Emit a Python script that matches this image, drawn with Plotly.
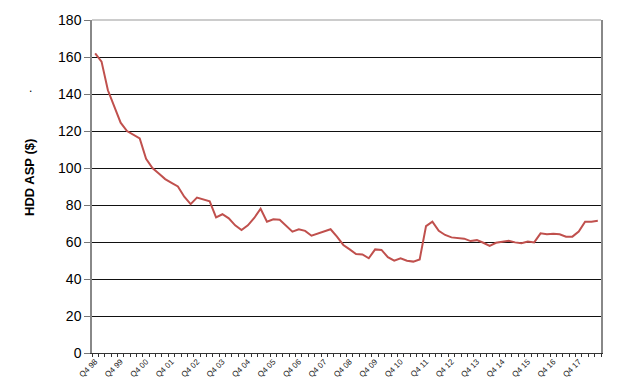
import plotly.graph_objects as go

# Quarters from Q4 98 to Q3 18
years = list(range(1998, 2019))
quarters = []
for y in years:
    for q in (1, 2, 3, 4):
        if (y == 1998 and q < 4) or (y == 2018 and q > 3):
            continue
        quarters.append(f"Q{q} {y % 100:02d}")

asp_values = [
    162, 157.5, 142, 133, 124.5, 120, 118, 116, 105, 100,
    97, 94, 92, 90, 84.5, 80.5, 84, 83, 82, 73.3,
    75, 72.8, 69, 66.5, 69, 73, 78, 71, 72.3, 72,
    69, 65.6, 66.9, 66, 63.4, 64.7, 65.8, 66.9, 62.9, 58.4,
    56, 53.5, 53.3, 51.2, 56, 55.7, 51.8, 49.9, 51.2, 49.9,
    49.4, 50.6, 68.6, 71, 66.1, 63.8, 62.5, 62, 61.8, 60.5,
    61, 59.6, 57.9, 59.6, 60.2, 60.7, 59.8, 59.3, 60.2, 59.8,
    64.7, 64.2, 64.5, 64.2, 62.9, 62.9, 65.6, 71, 71, 71.5,
]

tick_text = [q if q.startswith("Q4") else "" for q in quarters]
y_ticks = list(range(0, 181, 20))
y_title = "HDD ASP ($)"

FONT = "Liberation Sans, Arial, sans-serif"

fig = go.Figure()
fig.add_trace(go.Scatter(
    x=quarters, y=asp_values, mode="lines",
    line=dict(color="#C0504D", width=2),
    showlegend=False, hoverinfo="skip",
))

fig.update_layout(
    width=622, height=385,
    margin=dict(l=92, r=21, t=20, b=32, autoexpand=False),
    paper_bgcolor="white", plot_bgcolor="white",
    font=dict(family=FONT, color="black"),
    xaxis=dict(
        type="category", automargin=False,
        categoryorder="array", categoryarray=quarters,
        range=[-0.5, len(quarters) - 0.5],
        tickmode="array", tickvals=quarters, ticktext=tick_text,
        tickson="boundaries",
        ticks="outside", ticklen=3, tickcolor="#333", tickwidth=1,
        tickangle=-45, tickfont=dict(size=8, color="#222", family=FONT),
        showgrid=False, showline=True, linecolor="#333", linewidth=1,
        zeroline=False,
    ),
    yaxis=dict(
        range=[0, 180], tickmode="array", tickvals=y_ticks, automargin=False,
        ticks="outside", ticklen=6, tickcolor="#777", tickwidth=1,
        tickfont=dict(size=14, color="black", family=FONT),
        showgrid=True, gridcolor="#111", gridwidth=1,
        showline=True, linecolor="#888", linewidth=1.5,
        mirror=True, zeroline=False,
    ),
    shapes=[dict(type="line", xref="paper", yref="paper", x0=0, x1=1, y0=1, y1=1,
                 line=dict(color="#bbb", width=1.5))],
    annotations=[
        dict(text=".", x=(30 - 92) / 509, y=(353 - 88) / 333,
             xref="paper", yref="paper", xanchor="center", yanchor="middle",
             showarrow=False, font=dict(size=12)),
        dict(text=f"<b>{y_title}</b>", x=(29 - 92) / 509, y=(353 - 178) / 333,
             xref="paper", yref="paper", xanchor="center", yanchor="middle",
             textangle=-90, showarrow=False, font=dict(size=13, family=FONT)),
    ],
)

fig.write_html("out.html")
